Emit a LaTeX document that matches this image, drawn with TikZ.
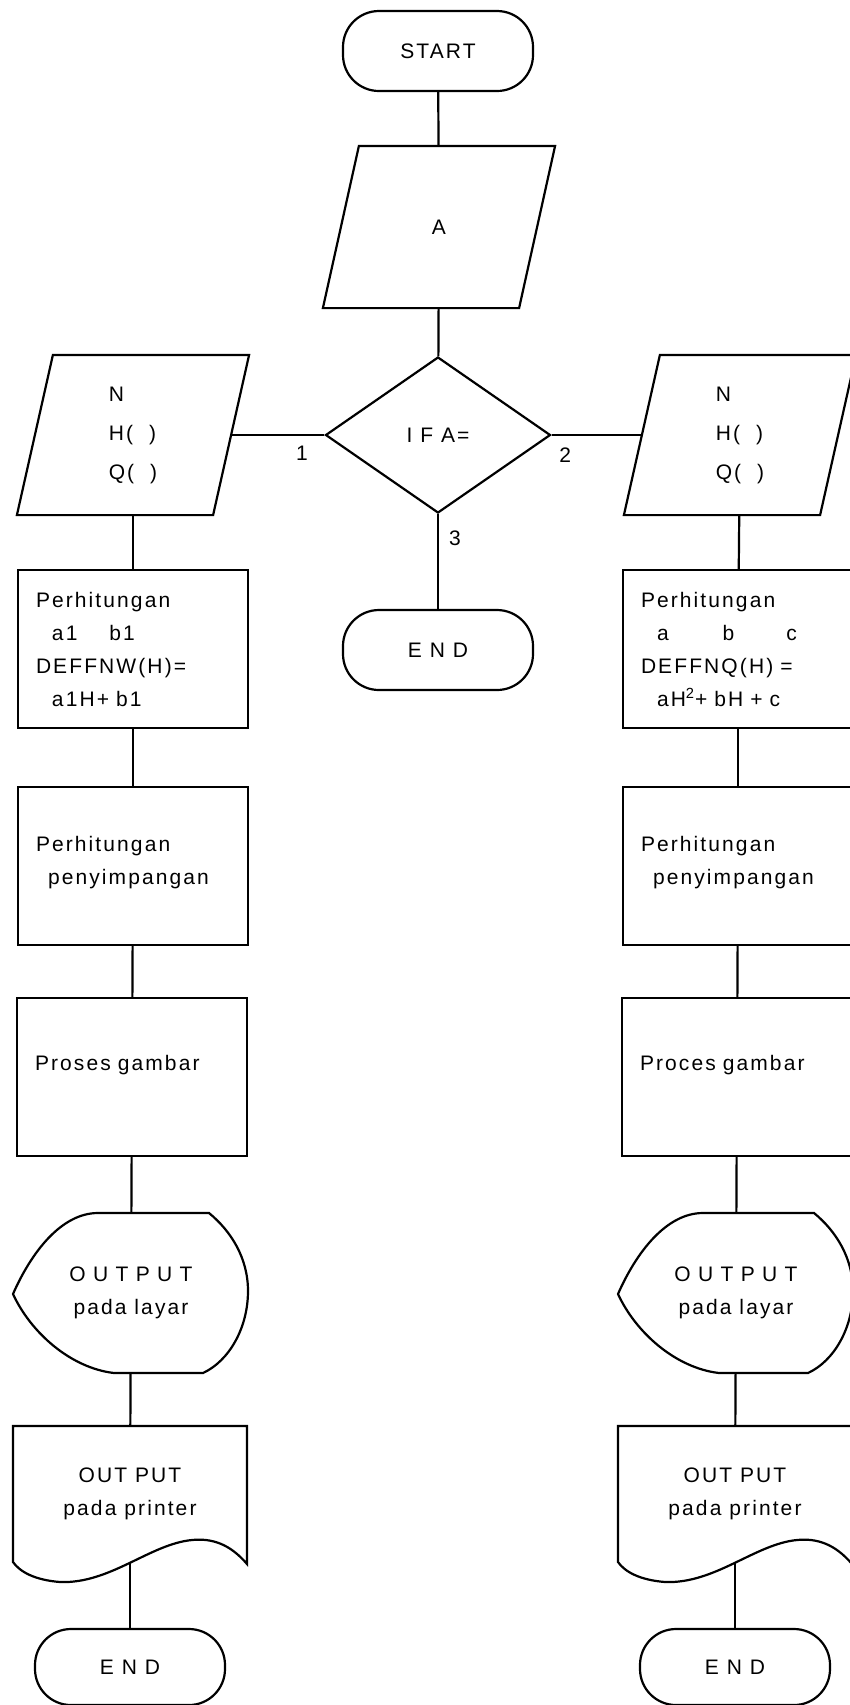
\documentclass[tikz,border=0pt]{standalone}
\usepackage{fontspec}
\setmainfont{Liberation Sans}[LetterSpace=10]
\usetikzlibrary{shapes.geometric,calc}

\begin{document}
\begin{tikzpicture}[x=0.5pt,y=-0.5pt,line width=1.1pt,
  every node/.style={font=\fontsize{10.5}{16.5}\selectfont},
  term/.style={draw,rectangle,rounded corners=18pt,minimum width=95pt,minimum height=40pt,inner sep=0pt},
  io/.style={rectangle,minimum width=97pt,minimum height=79pt,inner sep=0pt,align=left,
    font=\fontsize{10.5}{19.5}\selectfont},
  decide/.style={draw,diamond,aspect=1.44,minimum width=112.5pt,minimum height=78pt,inner sep=0pt},
  proc/.style={draw,rectangle,minimum width=115pt,minimum height=79pt,text width=97pt,align=left,inner sep=0pt},
  disp/.style={rectangle,minimum width=118pt,minimum height=80pt,inner sep=0pt,align=center},
  docu/.style={rectangle,minimum width=117pt,minimum height=68pt,inner sep=0pt,align=center},
  num/.style={inner sep=1pt}]
\useasboundingbox (0,0) rectangle (850,1705);
\clip (0,0) rectangle (850,1705);
% main line
\node[term] (start) at (438,51) {START};
\node[io,minimum height=80pt] (inA) at (439,227) {A};
\node[decide] (ifA) at (438,435) {I F A=};
\node[term] (endM) at (438,650) {E N D};
% left branch (1)
\node[io] (inL) at (133,435) {N\\H(\hspace{8pt})\\Q(\hspace{8pt})};
\node[proc] (hitL) at (133,649) {Perhitungan\\\hspace*{8pt}a1\hspace{16pt}b1\\DEFFNW(H)=\\\hspace*{8pt}a1H+ b1};
\node[proc,text depth=22pt] (devL) at (133,866) {Perhitungan\\\hspace*{6pt}penyimpangan};
\node[proc,text depth=14pt] (plotL) at (132,1077) {Proses gambar};
\node[disp] (layL) at (131,1293) {{\addfontfeature{LetterSpace=35}OUTPUT}\\pada layar};
\node[docu] (prnL) at (130,1494) {OUT PUT\\pada printer};
\node[term,minimum height=38pt] (endL) at (130,1667) {E N D};
% right branch (2)
\node[io] (inR) at (740,435) {N\\H(\hspace{8pt})\\Q(\hspace{8pt})};
\node[proc] (hitR) at (738,649) {Perhitungan\\\hspace*{8pt}a\hspace{27pt}b\hspace{26pt}c\\DEFFNQ(H) =\\\hspace*{8pt}aH\textsuperscript{2}+ bH + c};
\node[proc,text depth=22pt] (devR) at (738,866) {Perhitungan\\\hspace*{6pt}penyimpangan};
\node[proc,text depth=14pt] (plotR) at (737,1077) {Proces gambar};
\node[disp] (layR) at (736,1293) {{\addfontfeature{LetterSpace=35}OUTPUT}\\pada layar};
\node[docu] (prnR) at (735,1494) {OUT PUT\\pada printer};
\node[term,minimum height=38pt] (endR) at (735,1667) {E N D};
% outlines of input, display and printout
\foreach \n in {inA,inL,inR}
  \draw ($(\n.north west)+(18,0)$) -- ($(\n.north east)+(18,0)$)
    -- ($(\n.south east)+(-18,0)$) -- ($(\n.south west)+(-18,0)$) -- cycle;
\foreach \n in {layL,layR}
  \draw ($(\n)+(-33,-80)$) -- ($(\n)+(78,-80)$)
    .. controls ($(\n)+(100,-62)$) and ($(\n)+(117,-35)$) .. ($(\n)+(117,-2)$)
    .. controls ($(\n)+(117,35)$) and ($(\n)+(98,68)$) .. ($(\n)+(72,80)$)
    -- ($(\n)+(-17,80)$)
    .. controls ($(\n)+(-60,75)$) and ($(\n)+(-100,40)$) .. ($(\n)+(-118,1)$)
    .. controls ($(\n)+(-100,-40)$) and ($(\n)+(-70,-80)$) .. ($(\n)+(-33,-80)$) -- cycle;
\foreach \n in {prnL,prnR}
  \draw ($(\n)+(-117,-68)$) -- ($(\n)+(117,-68)$) -- ($(\n)+(117,70)$)
    .. controls ($(\n)+(100,50)$) and ($(\n)+(82,44)$) .. ($(\n)+(62,46)$)
    .. controls ($(\n)+(20,50)$) and ($(\n)+(-20,90)$) .. ($(\n)+(-70,88)$)
    .. controls ($(\n)+(-95,86)$) and ($(\n)+(-110,78)$) .. ($(\n)+(-117,68)$) -- cycle;
% connectors
\draw (start) -- (inA);
\draw (inA) -- (ifA);
\draw (ifA.west) -- node[num,pos=0.24,below=4pt]{1} (inL);
\draw (ifA.east) -- node[num,pos=0.15,below=5pt]{2} (inR);
\draw (ifA) -- node[num,pos=0.25,right=4pt]{3} (endM);
\foreach \s in {L,R}{
  \draw (in\s) -- (hit\s);
  \draw (hit\s) -- (dev\s);
  \draw (dev\s) -- (plot\s);
  \draw (plot\s) -- (lay\s);
  \draw (lay\s) -- (prn\s);
  \draw (prn\s) -- (end\s);
}
\end{tikzpicture}
\end{document}
